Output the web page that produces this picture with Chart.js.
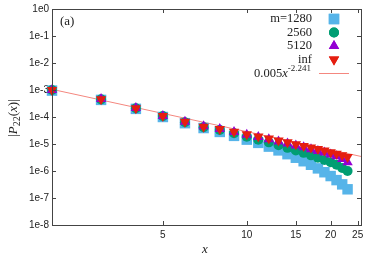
<!DOCTYPE html>
<html>
<head>
<meta charset="utf-8">
<script src="https://cdn.jsdelivr.net/npm/chart.js@4"></script>
<style>
  html, body { margin: 0; padding: 0; background: #fff; }
  #wrap { width: 374px; height: 262px; }
</style>
</head>
<body>
<div id="wrap"><canvas id="chart"></canvas></div>
<script>
// sites x
let xVals = [2,3,4,5,6,7,8,9,10,11,12,13,14,15,16,17,18,19,20,21,22,23];

// |P22(x)|
let m1280 = [9.5e-4,4.3e-4,2.0e-4,1.0e-4,5.9e-5,3.9e-5,2.8e-5,2.0e-5,1.45e-5,1.1e-5,8.0e-6,5.8e-6,4.2e-6,3.1e-6,2.3e-6,1.7e-6,1.25e-6,9.0e-7,6.5e-7,4.6e-7,3.2e-7,2.1e-7];
let m2560 = [1.0e-3,4.5e-4,2.1e-4,1.08e-4,6.4e-5,4.2e-5,3.3e-5,2.5e-5,1.85e-5,1.45e-5,1.15e-5,9.0e-6,7.2e-6,5.8e-6,4.7e-6,3.8e-6,3.1e-6,2.55e-6,2.1e-6,1.7e-6,1.3e-6,1.0e-6];
let m5120 = [1.0e-3,4.6e-4,2.15e-4,1.1e-4,6.7e-5,4.5e-5,3.6e-5,2.8e-5,2.2e-5,1.8e-5,1.5e-5,1.25e-5,1.05e-5,8.8e-6,7.5e-6,6.4e-6,5.5e-6,4.8e-6,4.1e-6,3.5e-6,2.8e-6,2.1e-6];
let mInf  = [1.0e-3,4.5e-4,2.1e-4,1.1e-4,6.6e-5,4.4e-5,3.6e-5,2.85e-5,2.3e-5,1.9e-5,1.6e-5,1.35e-5,1.15e-5,9.8e-6,8.5e-6,7.4e-6,6.5e-6,5.7e-6,5.0e-6,4.4e-6,3.8e-6,3.3e-6];

// fit 0.005 x^-2.241
let fitA = 0.005;
let fitB = -2.241;
let fitX = [2, 25.7];

let xTicks = [5, 10, 15, 20, 25];
let yTicks = [1e-8,1e-7,1e-6,1e-5,1e-4,1e-3,1e-2,1e-1,1];

let pts = (ys) => xVals.map((x, i) => ({x: x, y: ys[i]}));

let frame = {
  id: 'frame',
  afterDraw(chart) {
    let ctx = chart.ctx;
    let a = chart.chartArea;
    let sx = chart.scales.x, sy = chart.scales.y;
    ctx.save();
    ctx.strokeStyle = '#444';
    ctx.lineWidth = 1;
    ctx.strokeRect(a.left + 0.5, a.top + 0.5, a.right - a.left, a.bottom - a.top);
    ctx.beginPath();
    xTicks.forEach(v => {
      let p = Math.round(sx.getPixelForValue(v)) + 0.5;
      ctx.moveTo(p, a.bottom); ctx.lineTo(p, a.bottom - 4);
      ctx.moveTo(p, a.top); ctx.lineTo(p, a.top + 4);
    });
    yTicks.forEach(v => {
      let p = Math.round(sy.getPixelForValue(v)) + 0.5;
      ctx.moveTo(a.left, p); ctx.lineTo(a.left + 4, p);
      ctx.moveTo(a.right, p); ctx.lineTo(a.right - 4, p);
    });
    ctx.stroke();

    // (a)
    ctx.fillStyle = '#222';
    ctx.font = '13px "Liberation Serif"';
    ctx.textBaseline = 'middle';
    ctx.textAlign = 'left';
    ctx.fillText('(a)', 60, 22);

    // x label
    ctx.font = 'italic 13px "Liberation Serif"';
    ctx.textAlign = 'center';
    ctx.fillText('x', 205, 250);

    // y label |P22(x)|
    ctx.save();
    ctx.translate(14, 118);
    ctx.rotate(-Math.PI / 2);
    let segs = [
      ['|', '13px "Liberation Serif"', 0],
      ['P', 'italic 13px "Liberation Serif"', 0],
      ['22', '10px "Liberation Serif"', 3],
      ['(', '13px "Liberation Serif"', 0],
      ['x', 'italic 13px "Liberation Serif"', 0],
      [')|', '13px "Liberation Serif"', 0]
    ];
    let w = 0;
    segs.forEach(s => { ctx.font = s[1]; w += ctx.measureText(s[0]).width; });
    let cx = -w / 2;
    ctx.textAlign = 'left';
    segs.forEach(s => { ctx.font = s[1]; ctx.fillText(s[0], cx, s[2]); cx += ctx.measureText(s[0]).width; });
    ctx.restore();

    // legend
    let labels = ['m=1280', '2560', '5120', 'inf'];
    let rows = [19, 32.5, 46, 59.5];
    let styles = [
      {s: 'rect', r: 7.4, c: '#56b4e9', rot: 0},
      {s: 'circle', r: 5, c: '#009e73', rot: 0},
      {s: 'triangle', r: 6, c: '#9400d3', rot: 0},
      {s: 'triangle', r: 6, c: '#e51e10', rot: 180}
    ];
    ctx.font = '12.5px "Liberation Serif"';
    ctx.textAlign = 'right';
    labels.forEach((t, i) => {
      ctx.fillStyle = '#222';
      ctx.fillText(t, 312, rows[i]);
      ctx.fillStyle = styles[i].c;
      ctx.strokeStyle = styles[i].c;
      Chart.helpers.drawPoint(ctx, {pointStyle: styles[i].s, radius: styles[i].r, rotation: styles[i].rot, borderWidth: 0}, 334, rows[i]);
      ctx.fill();
    });
    // fit entry
    ctx.fillStyle = '#222';
    ctx.textAlign = 'left';
    let fs = [
      ['0.005', '12.5px "Liberation Serif"', 0],
      ['x', 'italic 12.5px "Liberation Serif"', 0],
      ['-2.241', '9px "Liberation Serif"', -5]
    ];
    let fw = 0;
    fs.forEach(s => { ctx.font = s[1]; fw += ctx.measureText(s[0]).width; });
    let fx = 311 - fw;
    fs.forEach(s => { ctx.font = s[1]; ctx.fillText(s[0], fx, 74 + s[2]); fx += ctx.measureText(s[0]).width; });
    ctx.strokeStyle = '#f4877f';
    ctx.beginPath();
    ctx.moveTo(319, 73.5); ctx.lineTo(349, 73.5);
    ctx.stroke();
    ctx.restore();
  }
};

new Chart(document.getElementById('chart'), {
  type: 'scatter',
  data: {
    datasets: [
      {label: 'inf', data: pts(mInf), pointStyle: 'triangle', rotation: 180, pointRadius: 6, backgroundColor: '#e51e10', borderWidth: 0, order: 0},
      {label: '5120', data: pts(m5120), pointStyle: 'triangle', pointRadius: 6, backgroundColor: '#9400d3', borderWidth: 0, order: 1},
      {label: '2560', data: pts(m2560), pointStyle: 'circle', pointRadius: 5, backgroundColor: '#009e73', borderWidth: 0, order: 2},
      {label: 'm=1280', data: pts(m1280), pointStyle: 'rect', pointRadius: 7.4, backgroundColor: '#56b4e9', borderWidth: 0, order: 3},
      {label: 'fit', type: 'line', data: fitX.map(x => ({x: x, y: fitA * Math.pow(x, fitB)})), borderColor: '#f4877f', borderWidth: 1, pointRadius: 0, order: 4}
    ]
  },
  options: {
    responsive: true,
    maintainAspectRatio: false,
    animation: false,
    layout: { padding: {top: 8, right: 13, left: 0, bottom: 0} },
    clip: false,
    scales: {
      x: {
        type: 'logarithmic',
        min: 2,
        max: 25.7,
        grid: {display: false, drawTicks: false},
        border: {display: false},
        afterBuildTicks: s => { s.ticks = xTicks.map(v => ({value: v})); },
        afterFit: s => { s.height = 37; },
        ticks: {
          autoSkip: false, maxRotation: 0, padding: 4,
          color: '#222', font: {family: 'Liberation Sans', size: 10},
          callback: v => String(v)
        }
      },
      y: {
        type: 'logarithmic',
        min: 1e-8,
        max: 1,
        grid: {display: false, drawTicks: false},
        border: {display: false},
        afterBuildTicks: s => { s.ticks = yTicks.map(v => ({value: v})); },
        afterFit: s => { s.width = 52; },
        ticks: {
          autoSkip: false, padding: 3,
          color: '#222', font: {family: 'Liberation Sans', size: 10},
          callback: v => '1e' + Math.round(Math.log10(v))
        }
      }
    },
    plugins: {
      legend: {display: false},
      tooltip: {enabled: false}
    }
  },
  plugins: [frame]
});
</script>
</body>
</html>
